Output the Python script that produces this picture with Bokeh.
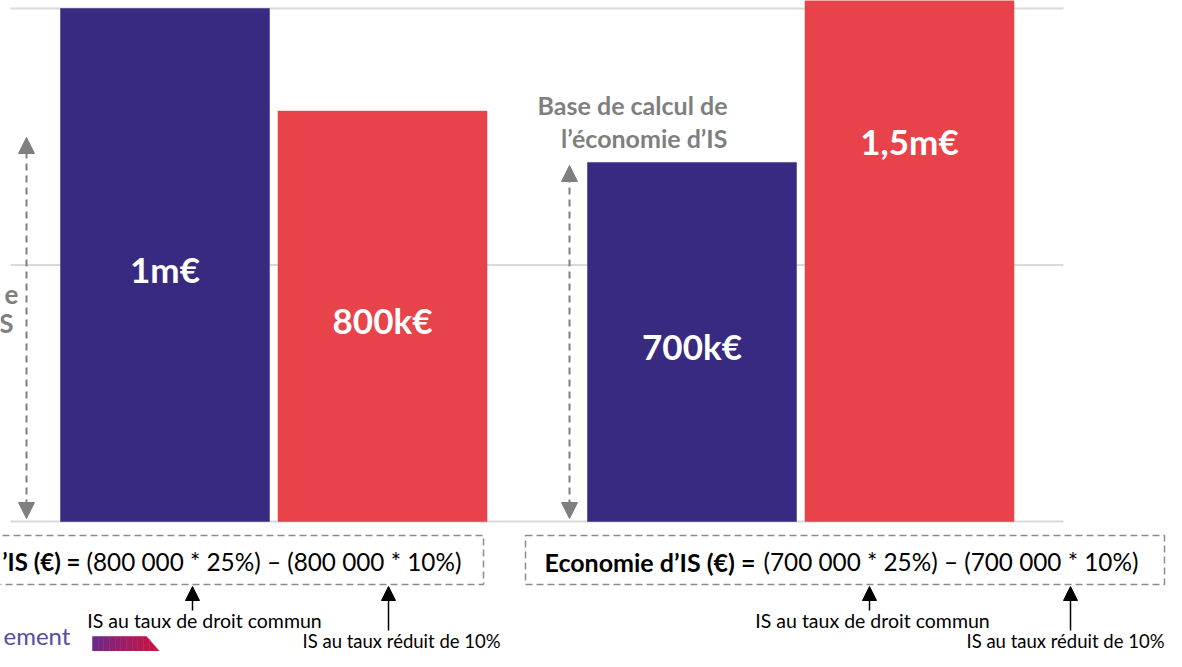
import numpy as np
from bokeh.plotting import figure
from bokeh.models import Range1d, Arrow, NormalHead
from bokeh.core.properties import value
from bokeh.embed import file_html
from bokeh.resources import INLINE

# ---------------- data ----------------
groups = ["Cas 1", "Cas 2"]
series = ["Droit commun", "Taux réduit"]
values = [1_000_000, 800_000, 700_000, 1_500_000]
bar_labels = ["1m€", "800k€", "700k€", "1,5m€"]
grid_ticks = [0, 500_000, 1_000_000]
formula_bold = ["\u2019IS (€) =", "Economie d\u2019IS (€) ="]
formula_rest = ["(800 000 * 25%) \u2013 (800 000 * 10%)", "(700 000 * 25%) \u2013 (700 000 * 10%)"]
note_common = "IS au taux de droit commun"
note_reduced = "IS au taux réduit de 10%"
base_label_right = ["Base de calcul de", "l\u2019économie d\u2019IS"]
base_label_left = ["e", "S"]
logo_text = "ement"

# ---------------- layout ----------------
W, H = 1166, 651
BASE_PX, TOP_PX = 521, 8          # picture pixel of value 0 and of 1m
PX_PER_VAL = (BASE_PX - TOP_PX) / 1_000_000


def Y(px):
    return (BASE_PX - px) / PX_PER_VAL


FONT = value("Lato")
BLUE, RED = "#382A81", "#E8434A"
GREY = "#7F7F7F"

p = figure(width=W, height=H, output_backend="svg", toolbar_location=None,
           x_range=Range1d(0, W), y_range=Range1d(Y(H), Y(0)),
           x_axis_location=None, y_axis_location=None, min_border=0,
           outline_line_color=None)
p.xgrid.visible = False
p.ygrid.visible = False
p.background_fill_color = "white"
p.border_fill_color = "white"

# bar positions computed from group / series indices
first_center, series_step, group_step, bar_w = 164.5, 217.5, 527.0, 209.0
xs = [first_center + g * group_step + s * series_step
      for g in range(len(groups)) for s in range(len(series))]
colors = [BLUE, RED] * len(groups)

# grid lines
p.segment(x0=[10] * len(grid_ticks), x1=[1063] * len(grid_ticks),
          y0=grid_ticks, y1=grid_ticks, line_color="#D9D9D9", line_width=2)

# bars
p.vbar(x=xs, width=bar_w, bottom=0, top=values, fill_color=colors,
       line_color=colors, line_width=0.5)

# bar value labels
p.text(x=xs, y=[v / 2 for v in values], text=bar_labels, text_font=FONT,
       text_font_style="bold", text_font_size="35px", text_color="white",
       text_align="center", text_baseline="middle", y_offset=4)

# "Base de calcul" labels
p.text(x=[727, 727], y=[Y(104), Y(137)], text=base_label_right, text_font=FONT,
       text_font_style="bold", text_font_size="25px", text_color=GREY,
       text_align="right", text_baseline="middle")
p.text(x=[18, 13], y=[Y(294), Y(322)], text=base_label_left, text_font=FONT,
       text_font_style="bold", text_font_size="26px", text_color=GREY,
       text_align="right", text_baseline="middle")

# dashed double arrows
for ax, top_px in [(26, 137), (569, 165)]:
    p.add_layout(Arrow(x_start=ax, y_start=Y(518), x_end=ax, y_end=Y(top_px),
                       line_color=GREY, line_width=2, line_dash="7 5",
                       start=NormalHead(size=16, fill_color=GREY, line_color=GREY),
                       end=NormalHead(size=16, fill_color=GREY, line_color=GREY)))

# dashed formula boxes
p.quad(left=[-20, 525], right=[483, 1164], bottom=[Y(584), Y(584)], top=[Y(535), Y(535)],
       fill_color=None, line_color="#8C8C8C", line_width=1.5, line_dash="7 4")

# formulas (bold part + regular part)
p.text(x=[80, 755], y=[Y(561)] * 2, text=formula_bold, text_font=FONT,
       text_font_style="bold", text_font_size=["24px", "25px"], text_color="black",
       text_align="right", text_baseline="middle")
p.text(x=[86, 763], y=[Y(561)] * 2, text=formula_rest, text_font=FONT,
       text_font_size="24.3px", text_color="black",
       text_align="left", text_baseline="middle")

# black pointer arrows
for ax, bot_px in [(192, 610), (388, 630), (869, 610), (1070, 630)]:
    p.add_layout(Arrow(x_start=ax, y_start=Y(bot_px), x_end=ax, y_end=Y(586),
                       line_color="black", line_width=1.5,
                       end=NormalHead(size=14, fill_color="black", line_color="black")))

p.text(x=[204, 872], y=[Y(620)] * 2, text=[note_common] * 2, text_font=FONT,
       text_font_size="19.5px", text_color="black", text_align="center",
       text_baseline="middle")
p.text(x=[302, 1164], y=[Y(640)] * 2, text=[note_reduced] * 2, text_font=FONT,
       text_font_size="18.5px", text_color="black", text_align=["left", "right"],
       text_baseline="middle")

# logo fragment bottom-left
p.text(x=[3], y=[Y(635)], text=[logo_text], text_font=FONT,
       text_font_size="24px", text_color="#5B4A9E", text_align="left",
       text_baseline="middle")
n = 12
c0 = np.array([0x6A, 0x2A, 0x8A])
c1 = np.array([0xD4, 0x12, 0x3C])
edges = np.linspace(92, 160, n + 1)
top_y, bot_y = 636, 652
knee = 146


def ry(x):
    return top_y + max(x - knee, 0) * (bot_y - top_y) / (160 - knee)


pxs, pys, pcols = [], [], []
for i in range(n):
    a, b = edges[i], edges[i + 1]
    t = (i + 0.5) / n
    c = (c0 + (c1 - c0) * t).astype(int)
    col = "#%02x%02x%02x" % tuple(c)
    poly = [(a, ry(a))]
    if a < knee < b:
        poly.append((knee, top_y))
    poly += [(b, ry(b)), (b, bot_y), (a, bot_y)]
    pxs.append([q[0] for q in poly])
    pys.append([Y(q[1]) for q in poly])
    pcols.append(col)
p.patches(xs=pxs, ys=pys, fill_color=pcols, line_color=pcols, line_width=0.5)

open("out.html", "w").write(file_html(p, INLINE))
